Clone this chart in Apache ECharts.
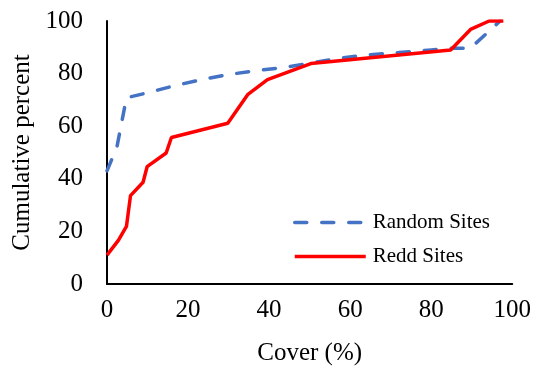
<!DOCTYPE html>
<html><head><meta charset="utf-8">
<script src="https://cdn.jsdelivr.net/npm/echarts@6/dist/echarts.min.js"></script>
<style>html,body{margin:0;padding:0;background:#fff}#c{width:534px;height:371px}</style>
</head><body><div id="c"></div>
<script>
const randomX = [0, 1.2, 2.5, 4.4, 4.8, 10, 16.7, 23.2, 29.8, 36.6, 44, 50.3, 55.8, 64, 72, 80, 84.8, 89.4, 91, 97];
const randomY = [43, 47.5, 52.5, 67.6, 70.8, 72.7, 75.4, 77.7, 79.6, 81.1, 82.4, 84, 85.5, 87.1, 88, 89, 89.6, 89.6, 91.5, 100];
const reddX = [0, 2.8, 4.8, 5.8, 8.9, 9.9, 14.6, 15.9, 29.8, 34.7, 39.6, 50.3, 84.8, 89.7, 94.3, 97.8];
const reddY = [11, 16.6, 21.9, 33.6, 38.7, 44.6, 49.8, 55.7, 61.1, 72, 77.7, 83.8, 89, 96.8, 100, 100];
const seriesNames = ['Random Sites', 'Redd Sites'];
const xTitle = 'Cover (%)';
const yTitle = 'Cumulative percent';

const pair = (xs, ys) => xs.map((x, i) => [x, ys[i]]);
const font = 'Liberation Serif, Times New Roman, serif';
const chart = echarts.init(document.getElementById('c'));
chart.setOption({
  animation: false,
  textStyle: { fontFamily: font },
  grid: { left: 107, right: 19, top: 21, bottom: 85, containLabel: false },
  legend: {
    orient: 'vertical', left: 288, top: 207, itemWidth: 71, itemHeight: 22, itemGap: 13,
    itemStyle: { opacity: 0 },
    lineStyle: { width: 3.5 },
    textStyle: { fontFamily: font, fontSize: 21, color: '#000', padding: [0, 0, 0, 2] },
    data: seriesNames
  },
  xAxis: {
    type: 'value', min: 0, max: 100, interval: 20,
    name: xTitle, nameLocation: 'middle', nameGap: 57,
    nameTextStyle: { fontFamily: font, fontSize: 25, color: '#000' },
    axisLine: { show: true, lineStyle: { color: '#000', width: 2 } },
    axisTick: { show: false }, splitLine: { show: false },
    axisLabel: { fontFamily: font, fontSize: 25, color: '#000', margin: 14 }
  },
  yAxis: {
    type: 'value', min: 0, max: 100, interval: 20,
    name: yTitle, nameLocation: 'middle', nameGap: 72, nameRotate: 90,
    nameTextStyle: { fontFamily: font, fontSize: 25, color: '#000' },
    axisLine: { show: true, lineStyle: { color: '#000', width: 2 } },
    axisTick: { show: false }, splitLine: { show: false },
    axisLabel: { fontFamily: font, fontSize: 25, color: '#000', margin: 24 }
  },
  series: [
    { name: seriesNames[0], type: 'line', data: pair(randomX, randomY), symbol: 'none',
      lineStyle: { color: '#4472C4', width: 3.5, type: [12, 15], cap: 'round' }, itemStyle: { color: '#4472C4' } },
    { name: seriesNames[1], type: 'line', data: pair(reddX, reddY), symbol: 'none',
      lineStyle: { color: '#FF0000', width: 3.5 }, itemStyle: { color: '#FF0000' } }
  ]
});
</script></body></html>
